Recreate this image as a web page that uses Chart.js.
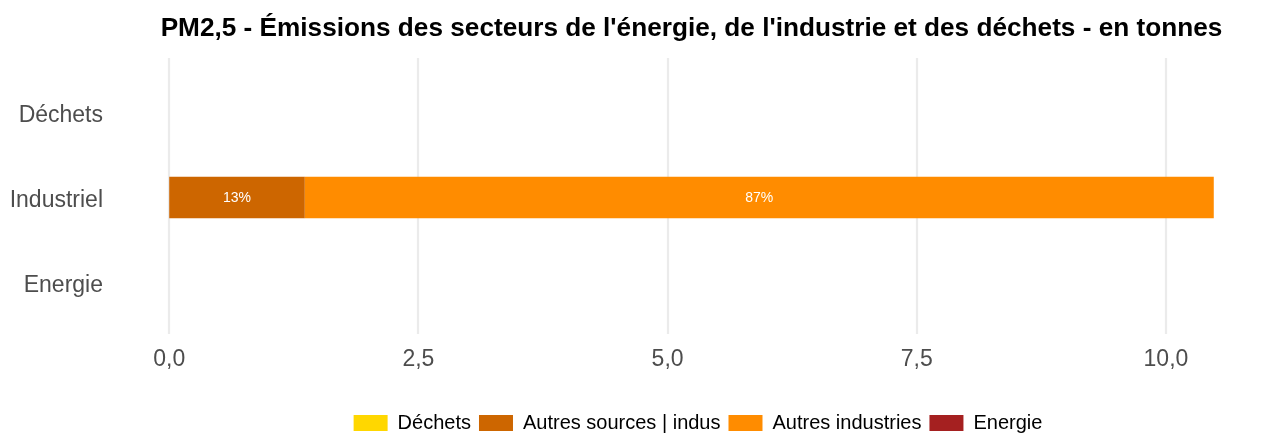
<!DOCTYPE html>
<html>
<head>
<meta charset="utf-8">
<script src="https://cdn.jsdelivr.net/npm/chart.js@4/dist/chart.umd.min.js"></script>
<style>
  html, body { margin: 0; padding: 0; background: #ffffff; }
  #wrap { width: 1267px; height: 434px; position: relative; }
</style>
</head>
<body>
<div id="wrap"><canvas id="c" width="1267" height="434"></canvas></div>
<script>
const chartTitle = "PM2,5 - Émissions des secteurs de l'énergie, de l'industrie et des déchets - en tonnes";
const categories = ['Déchets', 'Industriel', 'Energie'];
const seriesNames = ['Déchets', 'Autres sources | indus', 'Autres industries', 'Energie'];
const seriesColors = ['#FFD700', '#CD6600', '#FF8C00', '#A52020'];
const dechets = [0, 0, 0];
const autresSources = [0, 1.36, 0];
const autresIndustries = [0, 9.12, 0];
const energie = [0, 0, 0];
const xTickValues = [0, 2.5, 5, 7.5, 10];
const xTickLabels = ['0,0', '2,5', '5,0', '7,5', '10,0'];

const FONT = "'Liberation Sans', Arial, sans-serif";
const seriesData = [dechets, autresSources, autresIndustries, energie];

const gridPlugin = {
  id: 'gridPlugin',
  beforeDatasetsDraw(chart) {
    const ctx = chart.ctx, xs = chart.scales.x, area = chart.chartArea;
    ctx.save();
    ctx.strokeStyle = '#ebebeb';
    ctx.lineWidth = 2.2;
    xTickValues.forEach(v => {
      const x = Math.round(xs.getPixelForValue(v));
      ctx.beginPath();
      ctx.moveTo(x, area.top - 12);
      ctx.lineTo(x, area.bottom + 9);
      ctx.stroke();
    });
    ctx.restore();
  }
};

const labelPlugin = {
  id: 'labelPlugin',
  afterDatasetsDraw(chart) {
    const ctx = chart.ctx;
    ctx.save();
    ctx.fillStyle = '#ffffff';
    ctx.font = "14px " + FONT;
    ctx.textAlign = 'center';
    ctx.textBaseline = 'middle';
    categories.forEach((cat, i) => {
      const total = seriesData.reduce((s, d) => s + (d[i] || 0), 0);
      if (!total) return;
      chart.data.datasets.forEach((ds, di) => {
        const v = ds.data[i];
        if (!v) return;
        const el = chart.getDatasetMeta(di).data[i];
        const cx = (el.x + el.base) / 2;
        ctx.fillText(Math.round(v / total * 100) + '%', cx, el.y + 1);
      });
    });
    ctx.restore();
  }
};

const titlePlugin = {
  id: 'titlePlugin',
  afterLayout(chart) {
    const lg = chart.legend;
    if (lg) {
      lg.left += 65; lg.right += 65;
      lg.top += 13; lg.bottom += 13;
    }
  },
  afterDraw(chart) {
    const ctx = chart.ctx, area = chart.chartArea;
    ctx.save();
    ctx.fillStyle = '#000000';
    ctx.font = "bold 26.2px " + FONT;
    ctx.textAlign = 'center';
    ctx.textBaseline = 'alphabetic';
    ctx.fillText(chartTitle, (area.left + area.right) / 2, 36);
    ctx.restore();
  }
};

new Chart(document.getElementById('c'), {
  type: 'bar',
  data: {
    labels: categories,
    datasets: seriesNames.map((name, i) => ({
      label: name,
      data: seriesData[i],
      backgroundColor: seriesColors[i],
      borderWidth: 0,
      categoryPercentage: 1.0,
      barPercentage: 0.49
    }))
  },
  options: {
    indexAxis: 'y',
    responsive: false,
    animation: false,
    devicePixelRatio: 1,
    layout: { padding: { top: 70, right: 1, left: 0, bottom: 4 } },
    scales: {
      x: {
        type: 'linear',
        stacked: true,
        min: -0.524,
        max: 11.004,
        afterBuildTicks: (scale) => { scale.ticks = xTickValues.map(v => ({ value: v })); },
        afterFit: (scale) => { scale.height = 67; },
        grid: { display: false, drawTicks: false },
        border: { display: false },
        ticks: {
          padding: 21,
          color: '#4d4d4d',
          font: { family: FONT, size: 23 },
          autoSkip: false,
          maxRotation: 0,
          callback: (v) => { const k = xTickValues.indexOf(v); return k >= 0 ? xTickLabels[k] : ''; }
        }
      },
      y: {
        type: 'category',
        stacked: true,
        afterFit: (scale) => { scale.width = 117; },
        grid: { display: false, drawTicks: false },
        border: { display: false },
        ticks: {
          padding: 14,
          labelOffset: 3,
          color: '#4d4d4d',
          font: { family: FONT, size: 23 }
        }
      }
    },
    plugins: {
      title: { display: false },
      tooltip: { enabled: false },
      legend: {
        position: 'bottom',
        labels: {
          boxWidth: 34,
          boxHeight: 16,
          padding: 8,
          color: '#000000',
          font: { family: FONT, size: 20 }
        }
      }
    }
  },
  plugins: [gridPlugin, labelPlugin, titlePlugin]
});
</script>
</body>
</html>
